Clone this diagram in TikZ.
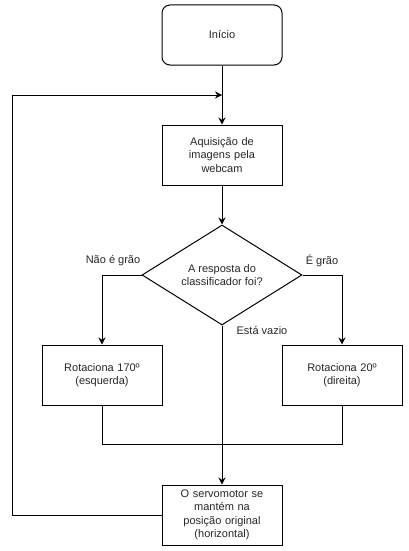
\documentclass[tikz,border=0pt]{standalone}
\usepackage{fontspec}
\setmainfont{Liberation Sans}
\usetikzlibrary{arrows.meta,shapes.geometric}
\begin{document}
\begin{tikzpicture}[x=1pt,y=-1pt,
  every node/.style={font=\fontsize{11}{13.5}\selectfont, text=black!85},
  proc/.style={draw, line width=1pt, minimum width=120pt, minimum height=60pt, align=center, text width=110pt, inner sep=0pt},
  dec/.style={draw, line width=1pt, diamond, minimum width=160pt, minimum height=100pt, inner sep=0pt},
  conn/.style={line width=1pt, -{Stealth[length=7pt,width=7pt]}},
  plain/.style={line width=1pt},
  lbl/.style={inner sep=0pt}]
\useasboundingbox (0,0) rectangle (408,551);
\node[proc, rounded corners=8pt] (ini) at (222,35) {Início};
\node[proc] (aq) at (222,155) {Aquisição de\\imagens pela\\webcam};
\node[dec, label={[align=center, inner sep=0pt]center:A resposta do\\classificador foi?}] (dc) at (222,275) {};
\node[proc] (esq) at (102,375) {Rotaciona 170º\\(esquerda)};
\node[proc] (dir) at (342,375) {Rotaciona 20º\\(direita)};
\node[proc] (sv) at (222,515) {O servomotor se\\mantém na\\posição original\\(horizontal)};
\coordinate (m) at (222,95);
\coordinate (j) at (222,444);
\draw[conn] (ini.south) -- (aq.north);
\draw[conn] (aq.south) -- (dc.north);
\draw[conn] (sv.west) -- (12,515) -- (12,95) -- (m);
\draw[conn] (dc.west) -| (esq.north);
\draw[conn] (dc.east) -| (dir.north);
\draw[conn] (dc.south) -- (sv.north);
\draw[plain] (esq.south) |- (j);
\draw[plain] (dir.south) |- (j);
\node[lbl] (l1) at (113,261) {Não é grão};
\node[lbl] (l2) at (322,261) {É grão};
\node[lbl] (l3) at (262,330) {Está vazio};
\end{tikzpicture}
\end{document}
